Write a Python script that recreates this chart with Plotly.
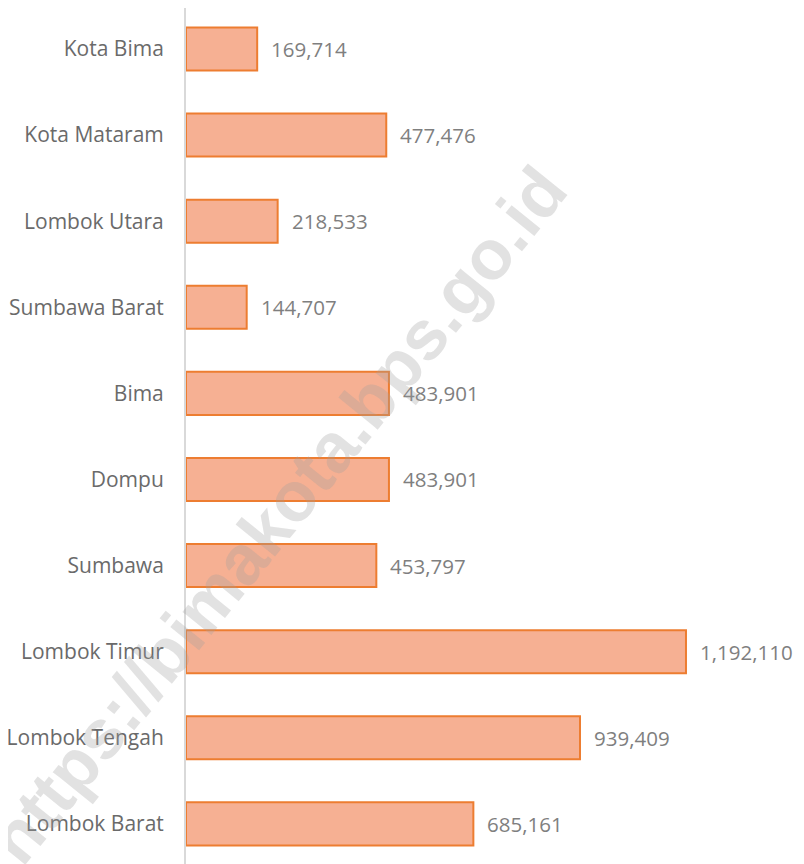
import plotly.graph_objects as go

categories = ["Lombok Barat", "Lombok Tengah", "Lombok Timur", "Sumbawa", "Dompu",
              "Bima", "Sumbawa Barat", "Lombok Utara", "Kota Mataram", "Kota Bima"]
values = [685161, 939409, 1192110, 453797, 483901, 483901, 144707, 218533, 477476, 169714]
value_labels = ["685,161", "939,409", "1,192,110", "453,797", "483,901",
                "483,901", "144,707", "218,533", "477,476", "169,714"]

FONT = "Open Sans, Carlito, sans-serif"

fig = go.Figure()
fig.add_trace(go.Bar(
    x=values, y=categories, orientation="h", width=0.5,
    marker=dict(color="#F6B093", line=dict(color="#ED7D31", width=2)),
    hoverinfo="skip",
))

for c, v, t in zip(categories, values, value_labels):
    fig.add_annotation(x=v, y=c, text=t, showarrow=False, xanchor="left",
                       xshift=12, font=dict(family=FONT, size=20.5, color="#7F7F7F"))

fig.add_annotation(xref="paper", yref="paper", x=0.148, y=0.408,
                   text="<b>https://bimakota.bps.go.id</b>", showarrow=False,
                   xanchor="center", yanchor="middle",
                   textangle=-51, font=dict(family="Liberation Sans, Arial, sans-serif", size=70,
                                            color="rgba(160,160,160,0.3)"))

fig.update_layout(
    width=796, height=856,
    margin=dict(l=178, r=0, t=0, b=0),
    paper_bgcolor="white", plot_bgcolor="white",
    showlegend=False,
    xaxis=dict(range=[0, 1473500], visible=False, showgrid=False, zeroline=False),
    yaxis=dict(range=[-0.466, 9.476], showline=True, linecolor="#D9D9D9", linewidth=2,
               showgrid=False, ticks="", ticklen=0, ticklabelstandoff=16, automargin=False,
               tickfont=dict(family=FONT, size=21, color="#6A6A6A")),
)

fig.write_html("out.html")
